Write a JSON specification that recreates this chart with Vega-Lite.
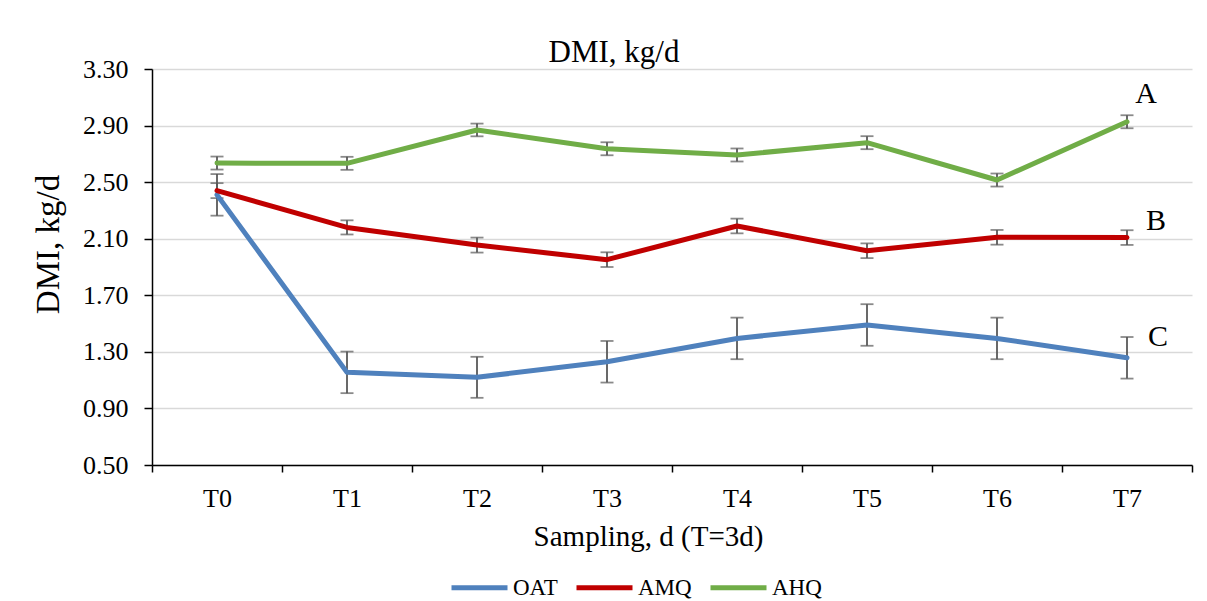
{
  "$schema": "https://vega.github.io/schema/vega-lite/v6.json",
  "autosize": {"type": "none"},
  "width": 1040,
  "height": 396,
  "padding": {"left": 152, "top": 69, "right": 15, "bottom": 136},
  "background": "white",
  "config": {
    "font": "Liberation Serif",
    "view": {"stroke": null},
    "axis": {"labelFont": "Liberation Serif", "titleFont": "Liberation Serif", "labelColor": "black", "titleColor": "black", "titleFontWeight": "normal"},
    "legend": {"labelFont": "Liberation Serif"}
  },
  "title": {
    "text": "DMI, kg/d",
    "font": "Liberation Serif",
    "fontSize": 31,
    "fontWeight": "normal",
    "color": "black",
    "anchor": "middle",
    "frame": "group",
    "baseline": "alphabetic",
    "offset": 8,
    "dx": -58,
    "dy": 45
  },
  "datasets": {
    "dmi": [
      {"T": "T0", "series": "OAT", "mean": 2.41, "lo": 2.263, "hi": 2.557},
      {"T": "T1", "series": "OAT", "mean": 1.155, "lo": 1.008, "hi": 1.302},
      {"T": "T2", "series": "OAT", "mean": 1.12, "lo": 0.975, "hi": 1.265},
      {"T": "T3", "series": "OAT", "mean": 1.23, "lo": 1.083, "hi": 1.377},
      {"T": "T4", "series": "OAT", "mean": 1.395, "lo": 1.248, "hi": 1.542},
      {"T": "T5", "series": "OAT", "mean": 1.49, "lo": 1.343, "hi": 1.637},
      {"T": "T6", "series": "OAT", "mean": 1.395, "lo": 1.248, "hi": 1.542},
      {"T": "T7", "series": "OAT", "mean": 1.258, "lo": 1.111, "hi": 1.405},
      {"T": "T0", "series": "AMQ", "mean": 2.44, "lo": 2.387, "hi": 2.493},
      {"T": "T1", "series": "AMQ", "mean": 2.18, "lo": 2.13, "hi": 2.23},
      {"T": "T2", "series": "AMQ", "mean": 2.055, "lo": 2.002, "hi": 2.108},
      {"T": "T3", "series": "AMQ", "mean": 1.952, "lo": 1.9, "hi": 2.004},
      {"T": "T4", "series": "AMQ", "mean": 2.19, "lo": 2.138, "hi": 2.242},
      {"T": "T5", "series": "AMQ", "mean": 2.015, "lo": 1.963, "hi": 2.067},
      {"T": "T6", "series": "AMQ", "mean": 2.11, "lo": 2.058, "hi": 2.162},
      {"T": "T7", "series": "AMQ", "mean": 2.108, "lo": 2.056, "hi": 2.16},
      {"T": "T0", "series": "AHQ", "mean": 2.635, "lo": 2.589, "hi": 2.681},
      {"T": "T1", "series": "AHQ", "mean": 2.633, "lo": 2.587, "hi": 2.679},
      {"T": "T2", "series": "AHQ", "mean": 2.869, "lo": 2.824, "hi": 2.914},
      {"T": "T3", "series": "AHQ", "mean": 2.736, "lo": 2.69, "hi": 2.782},
      {"T": "T4", "series": "AHQ", "mean": 2.692, "lo": 2.646, "hi": 2.738},
      {"T": "T5", "series": "AHQ", "mean": 2.779, "lo": 2.733, "hi": 2.825},
      {"T": "T6", "series": "AHQ", "mean": 2.515, "lo": 2.469, "hi": 2.561},
      {"T": "T7", "series": "AHQ", "mean": 2.927, "lo": 2.881, "hi": 2.973}
    ],
    "labels": [
      {"T": "T7", "v": 3.123, "label": "A"},
      {"T": "T7", "v": 2.225, "label": "B"},
      {"T": "T7", "v": 1.405, "label": "C"}
    ]
  },
  "encoding": {
    "x": {
      "field": "T",
      "type": "nominal",
      "scale": {"type": "band", "paddingInner": 0, "paddingOuter": 0, "domain": ["T0","T1","T2","T3","T4","T5","T6","T7"]},
      "axis": {
        "title": "Sampling, d (T=3d)",
        "titleFontSize": 29,
        "titleBaseline": "alphabetic",
        "titleX": 496,
        "titleY": 80,
        "labelFontSize": 26,
        "labelAngle": 0,
        "labelPadding": 13,
        "tickBand": "extent",
        "tickSize": 7,
        "tickColor": "black",
        "tickWidth": 1.5,
        "domainColor": "black",
        "domainWidth": 1.5,
        "grid": false
      }
    }
  },
  "layer": [
    {
      "data": {"name": "dmi"},
      "mark": {"type": "rule", "color": "#595959", "strokeWidth": 1.8},
      "encoding": {
        "y": {
          "field": "lo",
          "type": "quantitative",
          "scale": {"domain": [0.5, 3.3], "nice": false, "zero": false},
          "axis": {
            "title": "DMI, kg/d",
            "titleFontSize": 33,
            "titleAngle": -90,
            "titleBaseline": "alphabetic",
            "titleAlign": "center",
            "titleX": -94,
            "titleY": 175,
            "values": [0.5, 0.9, 1.3, 1.7, 2.1, 2.5, 2.9, 3.3],
            "format": ".2f",
            "labelFontSize": 26,
            "labelPadding": 16,
            "tickSize": 8,
            "tickColor": "black",
            "tickWidth": 1.5,
            "domainColor": "black",
            "domainWidth": 1.5,
            "grid": true,
            "gridColor": "#d9d9d9",
            "gridWidth": 1.5
          }
        },
        "y2": {"field": "hi"}
      }
    },
    {
      "data": {"name": "dmi"},
      "mark": {"type": "tick", "color": "#595959", "thickness": 1.8, "size": 13, "orient": "horizontal"},
      "encoding": {"y": {"field": "lo", "type": "quantitative"}}
    },
    {
      "data": {"name": "dmi"},
      "mark": {"type": "tick", "color": "#595959", "thickness": 1.8, "size": 13, "orient": "horizontal"},
      "encoding": {"y": {"field": "hi", "type": "quantitative"}}
    },
    {
      "data": {"name": "dmi"},
      "mark": {"type": "line", "strokeWidth": 5, "strokeCap": "round", "strokeJoin": "round"},
      "encoding": {
        "y": {"field": "mean", "type": "quantitative"},
        "color": {
          "field": "series",
          "type": "nominal",
          "scale": {"domain": ["OAT", "AMQ", "AHQ"], "range": ["#4f81bd", "#c00000", "#70ad47"]},
          "legend": {
            "title": null,
            "orient": "none",
            "direction": "horizontal",
            "legendX": 297,
            "legendY": 488,
            "symbolType": "stroke",
            "symbolSize": 3136,
            "symbolStrokeWidth": 5,
            "labelFontSize": 23,
            "labelColor": "black",
            "labelOffset": 3,
            "columnPadding": 8,
            "padding": 0
          }
        }
      }
    },
    {
      "data": {"name": "labels"},
      "transform": [{"filter": "datum.label == 'A'"}],
      "mark": {"type": "text", "fontSize": 30, "font": "Liberation Serif", "color": "black", "baseline": "middle", "align": "center", "dx": 19},
      "encoding": {"y": {"field": "v", "type": "quantitative"}, "text": {"field": "label"}}
    },
    {
      "data": {"name": "labels"},
      "transform": [{"filter": "datum.label == 'B'"}],
      "mark": {"type": "text", "fontSize": 30, "font": "Liberation Serif", "color": "black", "baseline": "middle", "align": "center", "dx": 29},
      "encoding": {"y": {"field": "v", "type": "quantitative"}, "text": {"field": "label"}}
    },
    {
      "data": {"name": "labels"},
      "transform": [{"filter": "datum.label == 'C'"}],
      "mark": {"type": "text", "fontSize": 30, "font": "Liberation Serif", "color": "black", "baseline": "middle", "align": "center", "dx": 31},
      "encoding": {"y": {"field": "v", "type": "quantitative"}, "text": {"field": "label"}}
    }
  ]
}
